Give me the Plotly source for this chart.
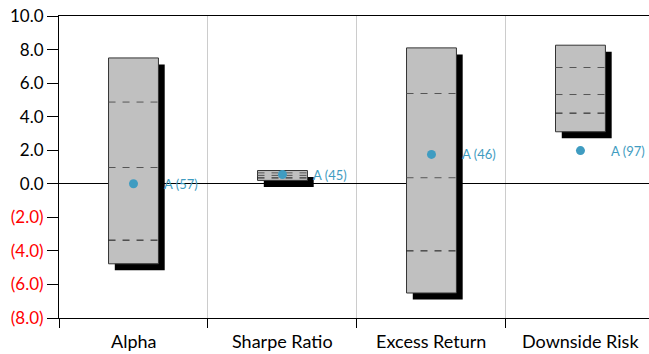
"""Risk metric ranges: floating boxes with drop shadows, quartile dashes and a marker."""

import plotly.graph_objects as go

categories = ["Alpha", "Sharpe Ratio", "Excess Return", "Downside Risk"]
high = [7.5, 0.79, 8.1, 8.26]
p75 = [4.87, 0.65, 5.38, 6.93]
median = [0.97, 0.5, 0.36, 5.32]
p25 = [-3.36, 0.35, -4.0, 4.21]
low = [-4.77, 0.2, -6.51, 3.1]
fund_values = [0.0, 0.55, 1.75, 1.98]
fund_labels = ["A (57)", "A (45)", "A (46)", "A (97)"]

tick_values = [-8, -6, -4, -2, 0, 2, 4, 6, 8, 10]

FONT = "Lato"
BOX_W = 0.335
SHADOW_DX = 0.042   # ~6px
SHADOW_DY = 0.39    # ~6.5px
POINT_COLOR = "#3f9cc1"

x = list(range(len(categories)))
heights = [h - l for h, l in zip(high, low)]

tick_text = []
for v in tick_values:
    if v < 0:
        tick_text.append(f"<span style='color:#ff0000'>({abs(v):.1f})</span>")
    else:
        tick_text.append(f"{v:.1f}")

fig = go.Figure()

# shadow
fig.add_trace(go.Bar(
    x=x, y=heights, base=[l - SHADOW_DY for l in low],
    width=BOX_W, offset=-BOX_W / 2 + SHADOW_DX,
    marker=dict(color="black", line=dict(width=0)),
    hoverinfo="skip",
))
# box
fig.add_trace(go.Bar(
    x=x, y=heights, base=low,
    width=BOX_W, offset=-BOX_W / 2,
    marker=dict(color="#c0c0c0", line=dict(color="#333333", width=1)),
))


def dash_segments(vals):
    xs, ys = [], []
    for i, v in zip(x, vals):
        xs += [i - BOX_W / 2, i + BOX_W / 2, None]
        ys += [v, v, None]
    return xs, ys


for vals, color in [(p75, "#555555"), (median, "#555555"), (p25, "#111111")]:
    xs, ys = dash_segments(vals)
    fig.add_trace(go.Scatter(
        x=xs, y=ys, mode="lines",
        line=dict(color=color, width=1, dash="7px,7px"),
        hoverinfo="skip",
    ))

fig.add_trace(go.Scatter(
    x=x, y=fund_values, mode="markers",
    marker=dict(color=POINT_COLOR, size=9),
))

for i, v, t in zip(x, fund_values, fund_labels):
    fig.add_annotation(
        x=i, y=v, text=t, showarrow=False, xanchor="left", xshift=29,
        font=dict(family=FONT, size=13, color=POINT_COLOR),
    )

for i, c in zip(x, categories):
    fig.add_annotation(
        x=i, y=0, xref="x", yref="paper", text=c, showarrow=False,
        yanchor="middle", yshift=-23,
        font=dict(family=FONT, size=18, color="black"),
    )

fig.update_layout(
    width=649, height=354,
    margin=dict(l=59, r=0, t=16, b=36, autoexpand=False),
    paper_bgcolor="white", plot_bgcolor="white",
    barmode="overlay", showlegend=False,
    font=dict(family=FONT, size=17, color="black"),
)
fig.update_xaxes(
    range=[-0.5, 3.46], automargin=False,
    tickvals=[-0.5, 0.5, 1.5, 2.5], ticktext=["", "", "", ""],
    ticks="outside", ticklen=9, tickcolor="black",
    showgrid=True, gridcolor="#cccccc", gridwidth=1,
    showline=True, linecolor="black", linewidth=1, mirror=True,
    zeroline=False,
)
fig.update_yaxes(
    range=[-8, 10], automargin=False,
    tickvals=tick_values, ticktext=tick_text,
    ticks="outside", ticklen=11, tickcolor="black",
    showgrid=False,
    showline=True, linecolor="black", linewidth=1,
    zeroline=True, zerolinecolor="black", zerolinewidth=1,
)

fig.write_html(
    "out.html",
    config={"displayModeBar": False},
    post_script="document.body.style.margin='0';document.body.style.overflow='hidden';",
)
